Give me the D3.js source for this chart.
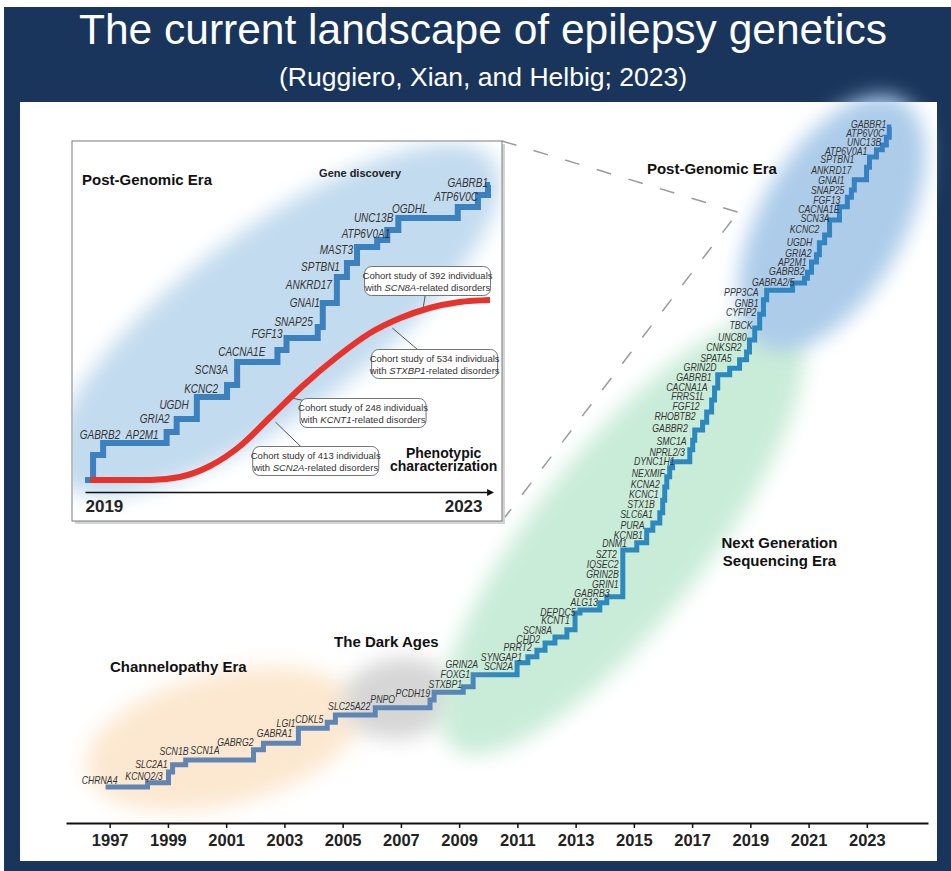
<!DOCTYPE html>
<html>
<head>
<meta charset="utf-8">
<script src="https://cdn.jsdelivr.net/npm/d3@7"></script>
<style>
  body { margin: 0; background: #fff; }
  svg text { font-family: "Liberation Sans", Arial, sans-serif; }
  .gene { font-family: "Liberation Sans Narrow", "Arial Narrow", "Liberation Sans", sans-serif; font-style: italic; fill: #333; }
  .era { font-weight: bold; font-size: 15px; fill: #111; }
  .cohort { font-size: 9.5px; fill: #333; }
</style>
</head>
<body>
<svg id="chart"></svg>
<script>
// ---- data ----
var yearTicks = [1997, 1999, 2001, 2003, 2005, 2007, 2009, 2011, 2013, 2015, 2017, 2019, 2021, 2023];

// main staircase: [year, cumulative level] (step after)
var mainSteps = [
  [1996.86, 0.5], [1998.30, 1.2], [1999.02, 3.0], [1999.16, 4.2], [1999.61, 5.0],
  [2001.94, 6.7], [2002.28, 7.8], [2003.48, 10.3], [2004.47, 11.3], [2004.75, 12.5],
  [2006.12, 13.7], [2008.00, 15.0], [2008.14, 16.3], [2009.14, 17.2], [2009.48, 19.2],
  [2010.99, 21.2], [2011.36, 22.2], [2011.67, 23.3], [2011.95, 24.5], [2012.29, 25.5],
  [2012.70, 26.7], [2012.98, 29.5], [2013.15, 30.0], [2013.83, 31.2], [2014.07, 32.2],
  [2014.62, 40.0], [2015.10, 41.2], [2015.44, 43.3], [2015.65, 44.5], [2015.89, 46.2],
  [2015.99, 48.3], [2016.06, 50.5], [2016.13, 52.2], [2016.23, 53.7], [2016.33, 54.7],
  [2016.92, 56.7], [2017.02, 58.3], [2017.09, 60.0], [2017.36, 61.3], [2017.50, 63.0],
  [2017.67, 65.0], [2017.77, 67.0], [2017.88, 69.2], [2018.29, 70.3], [2018.63, 71.7],
  [2018.87, 73.0], [2018.97, 75.0], [2019.15, 77.0], [2019.32, 79.3], [2019.45, 81.7],
  [2019.56, 83.3], [2020.45, 84.5], [2020.86, 85.3], [2020.96, 86.3], [2021.10, 88.0],
  [2021.27, 89.2], [2021.37, 91.2], [2021.55, 92.5], [2021.72, 95.0], [2022.06, 97.2],
  [2022.33, 98.8], [2022.47, 100.0], [2022.57, 101.7], [2022.99, 103.8], [2023.09, 105.5],
  [2023.33, 106.7], [2023.53, 107.5], [2023.67, 108.8], [2023.77, 110.5], [2023.84, 110.5]
];

// gene labels on main chart: [name, year, level] (label ends there)
var mainGenes = [
  ["CHRNA4", 1997.27, 1.0], ["KCNQ2/3", 1998.82, 1.7], ["SLC2A1", 1998.99, 3.7],
  ["SCN1B", 1999.71, 5.8], ["SCN1A", 2000.77, 6.0], ["GABRG2", 2001.94, 7.3],
  ["GABRA1", 2003.27, 8.8], ["LGI1", 2003.38, 10.5], ["CDKL5", 2004.34, 11.2],
  ["SLC25A22", 2005.95, 13.3], ["PNPO", 2006.80, 14.5], ["PCDH19", 2008.00, 15.5],
  ["STXBP1", 2009.10, 17.0], ["FOXG1", 2009.38, 18.7], ["GRIN2A", 2009.65, 20.3],
  ["SCN2A", 2010.85, 20.0], ["SYNGAP1", 2011.16, 21.5], ["PRRT2", 2011.50, 23.2],
  ["CHD2", 2011.78, 24.5], ["SCN8A", 2012.19, 26.0], ["KCNT1", 2012.80, 27.7],
  ["DEPDC5", 2013.00, 29.0], ["ALG13", 2013.76, 30.7], ["GABRB3", 2014.17, 32.2],
  ["GRIN1", 2014.48, 33.7], ["GRIN2B", 2014.48, 35.3], ["IQSEC2", 2014.48, 37.0],
  ["SZT2", 2014.42, 38.7], ["DNM1", 2014.76, 40.5], ["KCNB1", 2015.31, 41.8],
  ["PURA", 2015.37, 43.5], ["SLC6A1", 2015.65, 45.3], ["STX1B", 2015.72, 47.0],
  ["KCNC1", 2015.85, 48.7], ["KCNA2", 2015.89, 50.3], ["NEXMIF", 2016.06, 52.2],
  ["DYNC1H1", 2016.40, 54.2], ["NPRL2/3", 2016.75, 55.7], ["SMC1A", 2016.81, 57.5],
  ["GABBR2", 2016.85, 59.7], ["RHOBTB2", 2017.12, 61.7], ["FGF12", 2017.26, 63.3],
  ["FRRS1L", 2017.43, 65.0], ["CACNA1A", 2017.53, 66.5], ["GABRB1", 2017.67, 68.2],
  ["GRIN2D", 2017.84, 69.8], ["SPATA5", 2018.36, 71.3], ["CNKSR2", 2018.70, 73.2],
  ["UNC80", 2018.87, 74.8], ["TBCK", 2019.08, 76.8], ["CYFIP2", 2019.21, 79.0],
  ["GNB1", 2019.28, 80.5], ["PPP3CA", 2019.28, 82.3], ["GABRA2/5", 2020.52, 84.0],
  ["GABRB2", 2020.86, 85.8], ["AP2M1", 2020.93, 87.3], ["GRIA2", 2021.10, 88.8],
  ["UGDH", 2021.13, 90.7], ["KCNC2", 2021.37, 92.8], ["SCN3A", 2021.72, 94.7],
  ["CACNA1E", 2022.06, 96.2], ["FGF13", 2022.09, 97.7], ["SNAP25", 2022.23, 99.3],
  ["GNAI1", 2022.23, 101.0], ["ANKRD17", 2022.47, 102.7], ["SPTBN1", 2022.57, 104.5],
  ["ATP6V0A1", 2023.02, 105.8], ["UNC13B", 2023.50, 107.3], ["ATP6V0C", 2023.60, 108.8],
  ["GABBR1", 2023.67, 110.3]
];

// eras: name, ellipse from/to [year, level], label anchor [year, level]
var eras = [
  { name: "Channelopathy Era", from: [1996.2, 3], to: [2005.6, 14], label: [1997.01, 19.7] },
  { name: "The Dark Ages", from: [2005.0, 14], to: [2008.9, 16.5], label: [2006.5, 23.8] },
  { name: "Next Generation|Sequencing Era", from: [2008.8, 7], to: [2020.4, 78], label: [2020.0, 40.3] },
  { name: "Post-Genomic Era", from: [2019.4, 74], to: [2024.2, 115], label: [2017.68, 102.7] }
];
var zoomTarget = [2018.58, 96.3];

// inset (2019-2023): gene discovery staircase
var insetSteps = [
  [2019.00, 0], [2019.08, 2.5], [2019.18, 3.7], [2019.81, 4.8], [2019.91, 6.1],
  [2020.11, 8.3], [2020.41, 9.5], [2020.51, 11.8], [2020.91, 13.0], [2021.00, 14.2],
  [2021.31, 15.3], [2021.36, 17.7], [2021.50, 20.3], [2021.60, 21.7], [2021.70, 23.3],
  [2021.90, 24.0], [2022.00, 25.0], [2022.11, 26.2], [2022.70, 27.3], [2022.90, 28.5],
  [2023.00, 29.5], [2023.02, 29.5]
];
var insetGenes = [
  ["GABRB2", 2019.35, 4.1], ["AP2M1", 2019.73, 4.1], ["GRIA2", 2019.84, 5.7],
  ["UGDH", 2020.03, 7.1], ["KCNC2", 2020.32, 8.7], ["SCN3A", 2020.42, 10.6],
  ["CACNA1E", 2020.79, 12.4], ["FGF13", 2020.96, 14.2], ["SNAP25", 2021.26, 15.4],
  ["GNAI1", 2021.33, 17.3], ["ANKRD17", 2021.45, 19.1], ["SPTBN1", 2021.53, 20.9],
  ["MAST3", 2021.66, 22.6], ["ATP6V0A1", 2022.03, 24.2], ["UNC13B", 2022.06, 25.8],
  ["OGDHL", 2022.40, 26.7], ["ATP6V0C", 2022.90, 27.9], ["GABRB1", 2023.00, 29.3]
];
var insetEra = { from: [2018.75, 0], to: [2023.05, 32] };

// phenotypic characterization curve [year, level]
var phenoCurve = [
  [2019.05, 0], [2019.65, 0], [2019.94, 0.3], [2020.24, 1.4], [2020.54, 3.4],
  [2020.84, 6.3], [2021.16, 9.4], [2021.50, 12.3], [2021.83, 14.7], [2022.13, 16.2],
  [2022.42, 17.2], [2022.72, 17.8], [2023.02, 18.0]
];
// cohort studies: point on curve [year, level], box centre [year, level]
var cohorts = [
  { n: 392, gene: "SCN8A", at: [2022.35, 16.8], box: [2022.40, 19.9] },
  { n: 534, gene: "STXBP1", at: [2022.05, 15.2], box: [2022.47, 11.6] },
  { n: 248, gene: "KCNT1", at: [2021.05, 8.2], box: [2021.76, 6.7] },
  { n: 413, gene: "SCN2A", at: [2020.89, 5.8], box: [2021.29, 1.9] }
];

// ---- drawing ----
var W = 951, H = 871;
var svg = d3.select("#chart").attr("width", W).attr("height", H);
var defs = svg.append("defs");

defs.append("filter").attr("id", "soft")
  .attr("x", "-40%").attr("y", "-40%").attr("width", "180%").attr("height", "180%")
  .append("feGaussianBlur").attr("stdDeviation", 10);

defs.append("marker").attr("id", "arrow")
  .attr("viewBox", "0 0 10 10").attr("refX", 2).attr("refY", 5)
  .attr("markerWidth", 7).attr("markerHeight", 7)
  .attr("markerUnits", "userSpaceOnUse").attr("orient", "auto")
  .append("path").attr("d", "M0,0L10,5L0,10Z").attr("fill", "#111");

// background
svg.append("rect").attr("width", W).attr("height", H).attr("fill", "#fff");
svg.append("rect").attr("x", 4).attr("y", 7).attr("width", W - 4).attr("height", H - 7).attr("fill", "#19355b");
svg.append("rect").attr("x", 20).attr("y", 102).attr("width", 917).attr("height", 759).attr("fill", "#fff");

svg.append("text").attr("x", 483).attr("y", 44).attr("text-anchor", "middle")
  .attr("font-size", 42.5).attr("fill", "#fff")
  .text("The current landscape of epilepsy genetics");
svg.append("text").attr("x", 483).attr("y", 86).attr("text-anchor", "middle")
  .attr("font-size", 26.5).attr("fill", "#fff")
  .text("(Ruggiero, Xian, and Helbig; 2023)");

var x = d3.scaleLinear().domain([1995.5, 2025.1]).range([66, 928]);
var y = d3.scaleLinear().domain([0, 110]).range([790, 130]);

function blob(g, sx, sy, from, to, ry, color) {
  var x1 = sx(from[0]), y1 = sy(from[1]), x2 = sx(to[0]), y2 = sy(to[1]);
  var rx = Math.hypot(x2 - x1, y2 - y1) / 2;
  var ang = Math.atan2(y2 - y1, x2 - x1) * 180 / Math.PI;
  g.append("ellipse").attr("rx", rx).attr("ry", ry)
    .attr("transform", "translate(" + (x1 + x2) / 2 + "," + (y1 + y2) / 2 + ") rotate(" + ang + ")")
    .attr("fill", color).attr("filter", "url(#soft)");
}

var eraStyle = [
  { fill: "#fce8d0", ry: 66 },
  { fill: "#d6d6d6", ry: 40 },
  { fill: "#c9ecd8", ry: 86 },
  { fill: "#acccea", ry: 72 }
];
var blobs = svg.append("g");
eras.forEach(function (e, i) { blob(blobs, x, y, e.from, e.to, eraStyle[i].ry, eraStyle[i].fill); });

// main staircase
var grad = defs.append("linearGradient").attr("id", "stairGrad")
  .attr("gradientUnits", "userSpaceOnUse")
  .attr("x1", x(1997)).attr("x2", x(2024)).attr("y1", 0).attr("y2", 0);
[[0, "#6185b2"], [0.43, "#5d86b5"], [0.5, "#2f89bd"], [0.8, "#2b88bf"], [1, "#3a7fc2"]]
  .forEach(function (s) { grad.append("stop").attr("offset", s[0]).attr("stop-color", s[1]); });

var stair = d3.line().x(function (d) { return x(d[0]); }).y(function (d) { return y(d[1]); })
  .curve(d3.curveStepAfter);
svg.append("path").datum(mainSteps).attr("d", stair)
  .attr("fill", "none").attr("stroke", "url(#stairGrad)").attr("stroke-width", 5)
  .attr("stroke-linejoin", "miter");

// narrow italic labels: no condensed face installed, so squeeze horizontally
function geneLabels(g, sx, sy, data, size, squeeze) {
  g.selectAll("text").data(data).enter().append("text")
    .attr("class", "gene").attr("font-size", size).attr("text-anchor", "end")
    .attr("transform", function (d) {
      return "translate(" + sx(d[1]) + "," + sy(d[2]) + ") scale(" + squeeze + ",1)";
    })
    .text(function (d) { return d[0]; });
}
geneLabels(svg.append("g"), x, y, mainGenes, 10.4, 0.84);

// era labels
eras.forEach(function (e, i) {
  var lines = e.name.split("|");
  var t = svg.append("text").attr("class", "era")
    .attr("x", x(e.label[0])).attr("y", y(e.label[1]))
    .attr("text-anchor", i === 0 ? "start" : "middle");
  lines.forEach(function (l, k) {
    t.append("tspan").attr("x", x(e.label[0])).attr("dy", k ? 18 : 0).text(l);
  });
});

// main axis
var axis = svg.append("g").attr("transform", "translate(0,823)")
  .call(d3.axisBottom(x).tickValues(yearTicks).tickFormat(d3.format("d")).tickSize(5).tickSizeOuter(0));
axis.select(".domain").attr("stroke", "#111").attr("stroke-width", 2);
axis.selectAll(".tick line").attr("stroke", "#111").attr("stroke-width", 1.5);
axis.selectAll(".tick text").attr("y", 23).attr("dy", 0)
  .attr("font-size", 16.5).attr("font-weight", "bold").attr("fill", "#222")
  .attr("font-family", "Liberation Sans, Arial, sans-serif");

// ---- inset ----
var box = { x: 72, y: 141, w: 430, h: 380 };
var xi = d3.scaleLinear().domain([2019, 2023]).range([85, 488]);
var yi = d3.scaleLinear().domain([0, 30]).range([480, 180]);

// zoom lines
[[box.x + box.w, box.y], [box.x + box.w, box.y + box.h]].forEach(function (c) {
  svg.append("line").attr("x1", c[0]).attr("y1", c[1])
    .attr("x2", x(zoomTarget[0])).attr("y2", y(zoomTarget[1]))
    .attr("stroke", "#9a9a9a").attr("stroke-width", 1.5).attr("stroke-dasharray", "15,18");
});

svg.append("rect").attr("x", box.x + 3).attr("y", box.y + 3).attr("width", box.w).attr("height", box.h)
  .attr("fill", "#d4d4d4");
svg.append("rect").attr("x", box.x).attr("y", box.y).attr("width", box.w).attr("height", box.h)
  .attr("fill", "#fff").attr("stroke", "#7a7a7a").attr("stroke-width", 1);

defs.append("clipPath").attr("id", "insetClip").append("rect")
  .attr("x", box.x + 1).attr("y", box.y + 1).attr("width", box.w - 2).attr("height", box.h - 2);
var inset = svg.append("g");
blob(inset.append("g").attr("clip-path", "url(#insetClip)"), xi, yi, insetEra.from, insetEra.to, 92, "#c3dbef");

var stairIn = d3.line().x(function (d) { return xi(d[0]); }).y(function (d) { return yi(d[1]); })
  .curve(d3.curveStepAfter);
inset.append("path").datum(insetSteps).attr("d", stairIn)
  .attr("fill", "none").attr("stroke", "#3c80bd").attr("stroke-width", 6);

geneLabels(inset.append("g"), xi, yi, insetGenes, 12.5, 0.8);

// cohort callouts
var bw = 126, bh = 29;
cohorts.forEach(function (c) {
  inset.append("line").attr("x1", xi(c.at[0])).attr("y1", yi(c.at[1]))
    .attr("x2", xi(c.box[0])).attr("y2", yi(c.box[1]))
    .attr("stroke", "#555").attr("stroke-width", 1);
});

inset.append("path").datum(phenoCurve)
  .attr("d", d3.line().x(function (d) { return xi(d[0]); }).y(function (d) { return yi(d[1]); })
    .curve(d3.curveMonotoneX))
  .attr("fill", "none").attr("stroke", "#e8322c").attr("stroke-width", 6).attr("stroke-linecap", "butt");

cohorts.forEach(function (c) {
  var cx = xi(c.box[0]), cy = yi(c.box[1]);
  inset.append("rect").attr("x", cx - bw / 2).attr("y", cy - bh / 2).attr("width", bw).attr("height", bh)
    .attr("rx", 7).attr("fill", "#fff").attr("stroke", "#666").attr("stroke-width", 0.9);
  inset.append("text").attr("class", "cohort").attr("x", cx).attr("y", cy - 2).attr("text-anchor", "middle")
    .text("Cohort study of " + c.n + " individuals");
  var t2 = inset.append("text").attr("class", "cohort").attr("x", cx).attr("y", cy + 10).attr("text-anchor", "middle");
  t2.append("tspan").text("with ");
  t2.append("tspan").attr("font-style", "italic").text(c.gene);
  t2.append("tspan").text("-related disorders");
});

inset.append("text").attr("x", xi(2018.97)).attr("y", yi(29.5))
  .attr("font-size", 15).attr("font-weight", "bold").attr("fill", "#111").text("Post-Genomic Era");
inset.append("text").attr("x", xi(2021.73)).attr("y", yi(30.3)).attr("text-anchor", "middle")
  .attr("font-size", 11).attr("font-weight", "bold").attr("fill", "#222").text("Gene discovery");
var ph = inset.append("text").attr("text-anchor", "middle").attr("font-size", 14)
  .attr("font-weight", "bold").attr("fill", "#111");
ph.append("tspan").attr("x", xi(2022.56)).attr("y", yi(2.2)).text("Phenotypic");
ph.append("tspan").attr("x", xi(2022.56)).attr("y", yi(0.9)).text("characterization");

var iaxis = inset.append("g").attr("transform", "translate(0,492)")
  .call(d3.axisBottom(xi).tickValues([2019, 2023]).tickFormat(d3.format("d")).tickSize(0).tickSizeOuter(0));
iaxis.select(".domain").attr("stroke", "#111").attr("stroke-width", 1.5).attr("marker-end", "url(#arrow)");
iaxis.selectAll(".tick text").attr("y", 20).attr("dy", 0)
  .attr("font-size", 17).attr("font-weight", "bold").attr("fill", "#222")
  .attr("font-family", "Liberation Sans, Arial, sans-serif")
  .attr("text-anchor", function (d) { return d === 2019 ? "start" : "end"; })
  .attr("dx", function (d) { return d === 2019 ? 0 : -6; });
</script>
</body>
</html>
